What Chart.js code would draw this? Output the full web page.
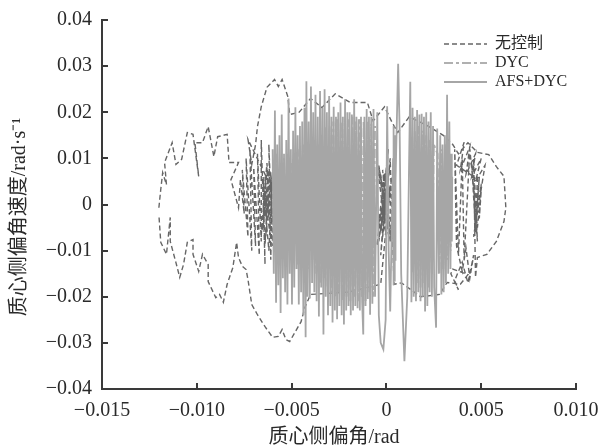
<!DOCTYPE html>
<html>
<head>
<meta charset="utf-8">
<style>
  html, body { margin: 0; padding: 0; background: #fff; }
  #wrap { width: 601px; height: 446px; }
  /* the source figure is a soft scan */
  #chart { filter: blur(0.4px); }
</style>
<script src="https://cdn.jsdelivr.net/npm/chart.js@4/dist/chart.umd.min.js"></script>
</head>
<body>
<div id="wrap"><canvas id="chart" width="601" height="446"></canvas></div>
<script>
const xTickLabels = ['−0.015', '−0.010', '−0.005', '0', '0.005', '0.010'];
const yTickLabels = ['−0.04', '−0.03', '−0.02', '−0.01', '0', '0.01', '0.02', '0.03', '0.04'];
const seriesNames = ['无控制', 'DYC', 'AFS+DYC'];

const noControlX = [
  -0.0120, -0.0119, -0.0118, -0.0116, -0.0117, -0.0113, -0.0111, -0.0108, -0.0105, -0.0102,
  -0.0099, -0.0101, -0.0097, -0.0094, -0.0091, -0.0089, -0.0084, -0.0083, -0.0078, -0.0082,
  -0.0078, -0.0077, -0.0075, -0.0076, -0.0073, -0.0074, -0.0071, -0.0072, -0.0069, -0.0070,
  -0.0067, -0.0068, -0.0066, -0.0066, -0.0064, -0.0065, -0.0063, -0.0064, -0.0062, -0.0063,
  -0.0065, -0.0062, -0.0064, -0.0061, -0.0066, -0.0063, -0.0061, -0.0065, -0.0062, -0.0060,
  -0.0061, -0.0062, -0.0060, -0.0061, -0.0060, -0.0061, -0.0073, -0.0071, -0.0069, -0.0068,
  -0.0066, -0.0063, -0.0059, -0.0057, -0.0055, -0.0052, -0.0051, -0.0046, -0.0040, -0.0034,
  -0.0027, -0.0019, -0.0010, -0.0007, -0.0001, 0.0003, 0.0006, 0.0012, 0.0022, 0.0030,
  0.0035, 0.0038, 0.0043, 0.0048, 0.0054, 0.0058, 0.0062, 0.0063, 0.0062, 0.0058,
  0.0053, 0.0048, 0.0047, 0.0046, 0.0048, 0.0045, 0.0047, 0.0049, 0.0047, 0.0048,
  0.0037, 0.0041, 0.0039, 0.0044, 0.0042, 0.0047, 0.0045, 0.0050, 0.0047, 0.0052,
  0.0046, 0.0050, 0.0049, 0.0050, 0.0048, 0.0044, 0.0041, 0.0040, 0.0038, 0.0036,
  0.0037, 0.0040, 0.0042, 0.0044, 0.0046, 0.0043, 0.0040, 0.0036, 0.0038, 0.0034,
  0.0035, 0.0043, 0.0039, 0.0032, 0.0028, 0.0018, 0.0008, 0.0004, 0.0002, -0.0003,
  0.0001, -0.0004, 0.0002, -0.0002, 0.0003, -0.0005, 0.0000, -0.0003, 0.0001, -0.0004,
  -0.0001, 0.0002, -0.0004, 0.0001, -0.0002, 0.0003, -0.0005, 0.0000, -0.0003, 0.0002,
  0.0002, -0.0003, -0.0003, -0.0020, -0.0040, -0.0043, -0.0045, -0.0051, -0.0053, -0.0055,
  -0.0057, -0.0060, -0.0064, -0.0068, -0.0071, -0.0073, -0.0074, -0.0076, -0.0078, -0.0079,
  -0.0081, -0.0084, -0.0086, -0.0088, -0.0090, -0.0094, -0.0094, -0.0097, -0.0099, -0.0102,
  -0.0102, -0.0105, -0.0107, -0.0109, -0.0111, -0.0114, -0.0114, -0.0116, -0.0119, -0.0120
];
const noControlY = [
  -0.0007, 0.0033, 0.0069, 0.0043, 0.0091, 0.0134, 0.0087, 0.0098, 0.0156, 0.0152,
  0.0061, 0.0134, 0.0134, 0.0169, 0.0104, 0.0147, 0.0152, 0.0091, 0.0091, 0.0054,
  -0.0007, 0.0054, -0.0020, 0.0075, -0.0070, 0.0100, -0.0100, 0.0120, -0.0090, 0.0080,
  -0.0110, 0.0110, -0.0080, 0.0140, -0.0130, 0.0060, -0.0060, 0.0060, -0.0030, 0.0080,
  -0.0050, 0.0075, -0.0085, 0.0055, -0.0065, 0.0090, -0.0075, 0.0045, -0.0100, 0.0065,
  -0.0120, 0.0130, -0.0090, 0.0070, -0.0040, 0.0040, 0.0141, 0.0087, 0.0130, 0.0169,
  0.0212, 0.0254, 0.0271, 0.0256, 0.0271, 0.0234, 0.0195, 0.0200, 0.0230, 0.0210,
  0.0240, 0.0221, 0.0221, 0.0181, 0.0212, 0.0178, 0.0156, 0.0190, 0.0170, 0.0150,
  0.0130, 0.0110, 0.0134, 0.0113, 0.0108, 0.0082, 0.0061, -0.0007, -0.0037, -0.0080,
  -0.0108, -0.0115, -0.0158, 0.0100, -0.0080, 0.0090, -0.0060, 0.0060, -0.0045, 0.0055,
  0.0085, 0.0135, 0.0075, 0.0125, 0.0065, 0.0110, 0.0060, 0.0100, 0.0050, 0.0085,
  -0.0070, 0.0045, -0.0030, 0.0030, -0.0050, 0.0120, -0.0120, 0.0100, -0.0110, 0.0120,
  -0.0090, -0.0145, -0.0095, -0.0160, -0.0110, -0.0170, -0.0125, -0.0165, -0.0185, -0.0150,
  -0.0140, -0.0152, -0.0173, -0.0169, -0.0195, -0.0200, -0.0170, -0.0173, 0.0100, -0.0110,
  0.0120, -0.0080, 0.0090, -0.0070, 0.0060, -0.0090, 0.0080, -0.0060, 0.0050, -0.0040,
  0.0070, -0.0075, 0.0085, -0.0065, 0.0075, -0.0085, 0.0090, -0.0070, 0.0065, -0.0080,
  0.0040, -0.0173, -0.0173, -0.0190, -0.0195, -0.0223, -0.0254, -0.0297, -0.0293, -0.0271,
  -0.0286, -0.0288, -0.0265, -0.0239, -0.0217, -0.0163, -0.0141, -0.0134, -0.0115, -0.0082,
  -0.0137, -0.0173, -0.0212, -0.0195, -0.0202, -0.0167, -0.0130, -0.0108, -0.0145, -0.0108,
  -0.0076, -0.0082, -0.0130, -0.0158, -0.0126, -0.0080, -0.0028, -0.0108, -0.0082, -0.0022
];

const dycX = [
  -0.0058, -0.0057, -0.0056, -0.0055, -0.0054, -0.0053, -0.0052, -0.0051, -0.0050, -0.0049,
  -0.0048, -0.0047, -0.0046, -0.0045, -0.0044, -0.0043, -0.0042, -0.0041, -0.0040, -0.0039,
  -0.0038, -0.0037, -0.0036, -0.0035, -0.0034, -0.0033, -0.0032, -0.0031, -0.0030, -0.0029,
  -0.0028, -0.0027, -0.0026, -0.0025, -0.0024, -0.0023, -0.0022, -0.0021, -0.0020, -0.0019,
  -0.0018, -0.0017, -0.0016, -0.0015, -0.0014, -0.0013, -0.0012, -0.0011, -0.0010, -0.0009,
  -0.0008, -0.0007, -0.0006, 0.0005, 0.0013, 0.0014, 0.0015, 0.0016, 0.0017, 0.0018,
  0.0019, 0.0020, 0.0021, 0.0022, 0.0023, 0.0024, 0.0025, 0.0027, 0.0028, 0.0029,
  0.0030, 0.0031, 0.0032, 0.0033, 0.0034
];
const dycY = [
  0.0110, -0.0120, 0.0090, -0.0110, 0.0100, -0.0130, 0.0110, -0.0100, 0.0090, -0.0120,
  0.0100, -0.0130, 0.0120, -0.0110, 0.0130, -0.0150, 0.0110, -0.0140, 0.0130, -0.0120,
  0.0140, -0.0150, 0.0130, -0.0170, 0.0150, -0.0160, 0.0170, -0.0180, 0.0170, -0.0190,
  0.0180, -0.0200, 0.0185, -0.0190, 0.0180, -0.0210, 0.0190, -0.0200, 0.0185, -0.0210,
  0.0190, -0.0200, 0.0180, -0.0210, 0.0185, -0.0200, 0.0180, -0.0210, 0.0180, -0.0190,
  0.0175, -0.0200, 0.0170, null, 0.0120, -0.0150, 0.0160, -0.0170, 0.0170, -0.0180,
  0.0160, -0.0170, 0.0150, -0.0180, 0.0140, -0.0150, 0.0130, 0.0110, -0.0150, 0.0120,
  -0.0140, 0.0130, -0.0120, 0.0110, -0.0100
];

const afsX = [
  -0.00600, -0.00594, -0.00588, -0.00582, -0.00576, -0.00570, -0.00564, -0.00558, -0.00552, -0.00546,
  -0.00540, -0.00534, -0.00528, -0.00522, -0.00516, -0.00510, -0.00504, -0.00498, -0.00492, -0.00486,
  -0.00480, -0.00474, -0.00468, -0.00462, -0.00456, -0.00450, -0.00444, -0.00438, -0.00432, -0.00426,
  -0.00422, -0.00416, -0.00410, -0.00404, -0.00398, -0.00392, -0.00386, -0.00380, -0.00374, -0.00368,
  -0.00362, -0.00356, -0.00350, -0.00344, -0.00338, -0.00332, -0.00326, -0.00320, -0.00314, -0.00308,
  -0.00302, -0.00296, -0.00290, -0.00284, -0.00278, -0.00272, -0.00266, -0.00260, -0.00254, -0.00248,
  -0.00242, -0.00236, -0.00230, -0.00224, -0.00218, -0.00212, -0.00206, -0.00200, -0.00194, -0.00188,
  -0.00182, -0.00176, -0.00170, -0.00164, -0.00158, -0.00152, -0.00146, -0.00140, -0.00134, -0.00128,
  -0.00122, -0.00116, -0.00110, -0.00104, -0.00098, -0.00092, -0.00086, -0.00080, -0.00074, -0.00068,
  -0.00060, -0.00048, -0.00040, -0.00030, -0.00016, -0.00004, 0.00004, 0.00012, 0.00020, 0.00035,
  0.00036, 0.00038, 0.00040, 0.00042, 0.00044, 0.00046,
  0.00048, 0.00055, 0.00062, 0.00070, 0.00078, 0.00095, 0.00110, 0.00120, 0.00126, 0.00132,
  0.00138, 0.00144, 0.00150, 0.00156, 0.00162, 0.00168, 0.00174, 0.00180, 0.00186, 0.00192,
  0.00198, 0.00204, 0.00210, 0.00216, 0.00222, 0.00228, 0.00234, 0.00240, 0.00246, 0.00252,
  0.00262, 0.00268, 0.00276, 0.00284, 0.00290, 0.00296, 0.00302, 0.00308, 0.00314, 0.00320,
  0.00326, 0.00332, 0.00338, 0.00342, 0.00345, 0.00347
];
const afsY = [
  0.0120, -0.0150, 0.0204, -0.0213, 0.0130, -0.0175, 0.0150, -0.0235, 0.0195, -0.0160,
  0.0110, -0.0190, 0.0140, -0.0217, 0.0230, -0.0150, 0.0120, -0.0217, 0.0160, -0.0180,
  0.0211, -0.0140, 0.0150, -0.0217, 0.0170, -0.0190, 0.0180, -0.0240, 0.0210, -0.0288,
  0.0267, -0.0200, 0.0180, -0.0204, 0.0256, -0.0170, 0.0200, -0.0190, 0.0238, -0.0210,
  0.0190, -0.0243, 0.0246, -0.0180, 0.0210, -0.0282, 0.0250, -0.0200, 0.0200, -0.0240,
  0.0235, -0.0220, 0.0190, -0.0256, 0.0212, -0.0230, 0.0190, -0.0249, 0.0200, -0.0220,
  0.0221, -0.0240, 0.0190, -0.0260, 0.0228, -0.0230, 0.0200, -0.0220, 0.0200, -0.0240,
  0.0195, -0.0230, 0.0228, -0.0220, 0.0190, -0.0225, 0.0185, -0.0230, 0.0190, -0.0210,
  -0.0282, 0.0190, -0.0220, 0.0207, -0.0205, 0.0190, -0.0239, 0.0190, -0.0215, 0.0207,
  -0.0200, 0.0200, -0.0240, -0.0300, -0.0314, -0.0250, 0.0213, -0.0100, -0.0232, 0.0100,
  0.0170, -0.0175, 0.0130, -0.0165, 0.0150, -0.0120,
  0.0050, 0.0180, 0.0305, 0.0160, -0.0150, -0.0340, -0.0200, 0.0100, 0.0266, -0.0212,
  0.0210, -0.0200, 0.0190, -0.0210, 0.0205, -0.0190, 0.0195, -0.0210, 0.0197, -0.0200,
  0.0190, -0.0232, 0.0200, -0.0220, 0.0180, -0.0190, 0.0200, -0.0200, 0.0170, -0.0180,
  -0.0267, 0.0165, -0.0150, 0.0150, -0.0195, 0.0130, -0.0190, 0.0150, -0.0170, 0.0238,
  -0.0150, 0.0180, -0.0140, 0.0110, -0.0080, 0.0060
];

const serif = '"Liberation Serif", "Noto Sans CJK SC", serif';
const ink = '#3a3a3a';

function toPoints(xs, ys) {
  return xs.map((x, i) => ({ x, y: ys[i] }));
}

function legendItems(chart) {
  return chart.data.datasets.map((ds, i) => ({
    text: ds.label,
    datasetIndex: i,
    fontColor: '#2a2a2a',
    pointStyle: 'line',
    strokeStyle: ds.borderColor,
    fillStyle: ds.borderColor,
    lineWidth: ds.borderWidth,
    lineDash: ds.borderDash || [],
  }));
}

new Chart(document.getElementById('chart'), {
  type: 'scatter',
  data: {
    datasets: [
      {
        label: seriesNames[0],
        data: toPoints(noControlX, noControlY),
        showLine: true,
        borderColor: '#666666',
        borderWidth: 1.4,
        borderDash: [5, 3],
        pointRadius: 0,
        order: 3,
      },
      {
        label: seriesNames[1],
        data: toPoints(dycX, dycY),
        showLine: true,
        borderColor: '#b0b0b0',
        borderWidth: 2,
        borderDash: [9, 3, 3, 3],
        pointRadius: 0,
        order: 2,
      },
      {
        label: seriesNames[2],
        data: toPoints(afsX, afsY),
        showLine: true,
        borderColor: '#a6a6a6',
        borderWidth: 1.8,
        pointRadius: 0,
        order: 1,
      },
    ],
  },
  options: {
    responsive: false,
    animation: false,
    layout: { padding: { top: 20, right: 25, left: 0, bottom: 0 } },
    scales: {
      x: {
        type: 'linear',
        min: -0.015,
        max: 0.01,
        afterFit: (scale) => {
          scale.height = 57;
          scale.paddingLeft = 0;
          scale.paddingRight = 0;
        },
        border: { color: ink, width: 2 },
        grid: { drawOnChartArea: false, color: ink, lineWidth: 2, tickLength: -6 },
        ticks: {
          stepSize: 0.005,
          padding: 16,
          maxRotation: 0,
          autoSkip: false,
          color: '#2a2a2a',
          font: { family: serif, size: 20 },
          callback: (value, index) => xTickLabels[index],
        },
        title: {
          display: true,
          text: '质心侧偏角/rad\u00a0\u00a0',
          color: '#2a2a2a',
          font: { family: serif, size: 20, lineHeight: 1 },
          padding: { top: 0, bottom: -2 },
        },
      },
      y: {
        type: 'linear',
        min: -0.04,
        max: 0.04,
        afterFit: (scale) => {
          scale.width = 102;
          scale.paddingTop = 0;
          scale.paddingBottom = 0;
        },
        border: { color: ink, width: 2 },
        grid: { drawOnChartArea: false, color: ink, lineWidth: 2, tickLength: -6 },
        ticks: {
          stepSize: 0.01,
          padding: 16,
          autoSkip: false,
          color: '#2a2a2a',
          font: { family: serif, size: 20 },
          callback: (value, index) => yTickLabels[index],
        },
        title: {
          display: true,
          text: '质心侧偏角速度/rad·s⁻¹\u00a0\u00a0\u00a0\u00a0\u00a0',
          color: '#2a2a2a',
          font: { family: serif, size: 20 },
          padding: { top: 8, bottom: 0 },
        },
      },
    },
    plugins: {
      tooltip: { enabled: false },
      legend: {
        position: 'chartArea',
        align: 'start',
        labels: {
          usePointStyle: true,
          pointStyle: 'line',
          pointStyleWidth: 43,
          padding: 3,
          color: '#2a2a2a',
          font: { family: serif, size: 16 },
          generateLabels: legendItems,
        },
      },
    },
  },
  plugins: [{
    id: 'legendPlace',
    afterLayout(chart) {
      const legend = chart.legend;
      const w = legend.width;
      const h = legend.height;
      legend.left = 441;
      legend.right = 441 + w;
      legend.top = 33;
      legend.bottom = 33 + h;
    },
  }],
});
</script>
</body>
</html>
